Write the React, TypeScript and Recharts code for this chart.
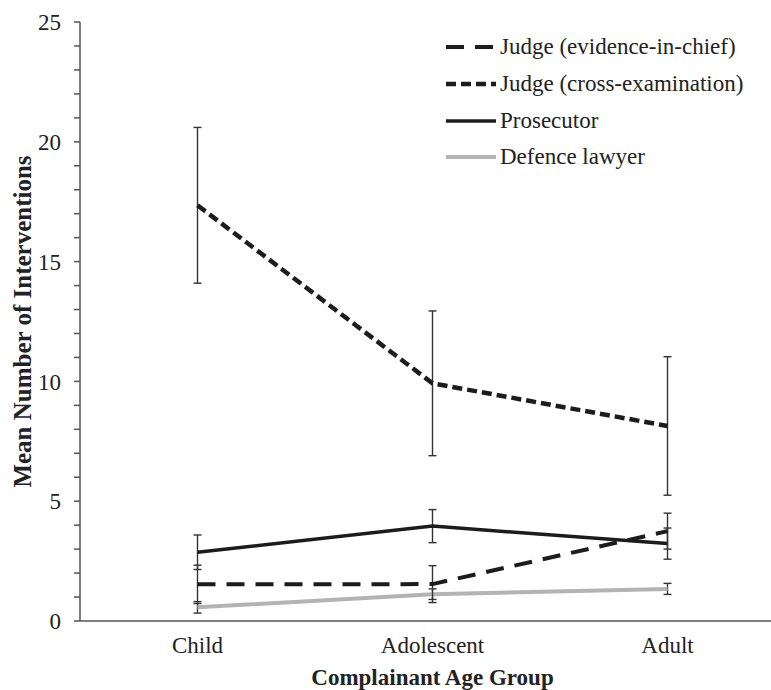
import { LineChart, Line, XAxis, YAxis, Legend, ErrorBar } from 'recharts';

// values (mean number of interventions, ± error)
const categories = ['Child', 'Adolescent', 'Adult'];
const judgeEic = [1.53, 1.54, 3.75];
const judgeEicErr = [0.8, 0.77, 0.75];
const judgeCross = [17.35, 9.92, 8.14];
const judgeCrossErr = [3.25, 3.02, 2.89];
const prosecutor = [2.87, 3.96, 3.23];
const prosecutorErr = [0.72, 0.69, 0.65];
const defence = [0.57, 1.12, 1.34];
const defenceErr = [0.24, 0.22, 0.23];

const yTicks = [0, 1, 2, 3, 4, 5, 6, 7, 8, 9, 10, 11, 12, 13, 14, 15, 16, 17, 18, 19, 20, 21, 22, 23, 24, 25];
const catTicks = [0, 1, 2];
const bandTicks = [0.5, 1.5];

const rows = categories.map((name, i) => ({
    x: i,
    name,
    eic: judgeEic[i],
    eicErr: judgeEicErr[i],
    cross: judgeCross[i],
    crossErr: judgeCrossErr[i],
    pros: prosecutor[i],
    prosErr: prosecutorErr[i],
    def: defence[i],
    defErr: defenceErr[i],
}));

const FONT = '"Liberation Serif", "Times New Roman", serif';
const INK = '#1c1c1c';

const SERIES = [
    { key: 'eic', name: 'Judge (evidence-in-chief)', stroke: INK, width: 4, dash: '18 11' },
    { key: 'cross', name: 'Judge (cross-examination)', stroke: INK, width: 4.5, dash: '10 5' },
    { key: 'pros', name: 'Prosecutor', stroke: INK, width: 3.5, dash: undefined },
    { key: 'def', name: 'Defence lawyer', stroke: '#b3b3b3', width: 4, dash: undefined },
];

const LegendContent = () => (
    <div style={{ fontFamily: FONT, fontSize: 23, color: '#222' }}>
        {SERIES.map((s) => (
            <div key={s.key} style={{ display: 'flex', alignItems: 'center', height: 36.7 }}>
                <svg width={52} height={10} style={{ marginRight: 2 }}>
                    <line x1={0} y1={5} x2={50} y2={5} stroke={s.stroke} strokeWidth={s.width} strokeDasharray={s.dash} />
                </svg>
                <span>{s.name}</span>
            </div>
        ))}
    </div>
);

export default function App() {
    return (
        <div style={{ width: 771, height: 690, overflow: 'hidden', background: '#fff' }}>
            <style>{'body{margin:0}'}</style>
            <LineChart width={785} height={690} data={rows} margin={{ top: 22, right: 0, bottom: 0, left: 0 }}>
                {/* tick marks between the categories */}
                <XAxis
                    xAxisId="band"
                    type="number"
                    dataKey="x"
                    domain={[-0.5, 2.5]}
                    ticks={bandTicks}
                    tick={false}
                    tickLine={{ stroke: '#555', strokeWidth: 1.5 }}
                    tickSize={6}
                    axisLine={false}
                    height={0}
                />
                <XAxis
                    xAxisId="cat"
                    type="number"
                    dataKey="x"
                    domain={[-0.5, 2.5]}
                    ticks={catTicks}
                    tickFormatter={(v) => categories[v]}
                    tickLine={false}
                    tickSize={6}
                    tickMargin={10}
                    axisLine={{ stroke: '#555', strokeWidth: 1.5 }}
                    tick={{ fontFamily: FONT, fontSize: 23, fill: '#222' }}
                    height={69}
                    label={{
                        value: 'Complainant Age Group',
                        position: 'insideBottom',
                        offset: 5,
                        style: { fontFamily: FONT, fontSize: 23, fontWeight: 'bold', fill: '#222' },
                    }}
                />
                <YAxis
                    type="number"
                    domain={[0, 25]}
                    ticks={yTicks}
                    interval={0}
                    tickFormatter={(v) => (v % 5 === 0 ? String(v) : '')}
                    tickLine={{ stroke: '#555', strokeWidth: 1.5 }}
                    tickSize={6}
                    tickMargin={13}
                    axisLine={{ stroke: '#555', strokeWidth: 1.5 }}
                    tick={{ fontFamily: FONT, fontSize: 23, fill: '#222' }}
                    width={80}
                    label={{
                        value: 'Mean Number of Interventions',
                        angle: -90,
                        position: 'insideLeft',
                        offset: 22,
                        style: { fontFamily: FONT, fontSize: 25, fontWeight: 'bold', fill: '#222', textAnchor: 'middle' },
                    }}
                />
                <Legend
                    layout="horizontal"
                    align="center"
                    verticalAlign="middle"
                    content={<LegendContent />}
                    wrapperStyle={{ top: 29, left: 446, width: 325, height: 150 }}
                />
                <Line xAxisId="cat" dataKey="def" name="Defence lawyer" stroke="#b3b3b3" strokeWidth={4} dot={false} isAnimationActive={false}>
                    <ErrorBar dataKey="defErr" direction="y" width={4} stroke="#333" strokeWidth={1.4} isAnimationActive={false} />
                </Line>
                <Line xAxisId="cat" dataKey="pros" name="Prosecutor" stroke={INK} strokeWidth={3.5} dot={false} isAnimationActive={false}>
                    <ErrorBar dataKey="prosErr" direction="y" width={4} stroke="#333" strokeWidth={1.4} isAnimationActive={false} />
                </Line>
                <Line xAxisId="cat" dataKey="eic" name="Judge (evidence-in-chief)" stroke={INK} strokeWidth={4} strokeDasharray="18 11" dot={false} isAnimationActive={false}>
                    <ErrorBar dataKey="eicErr" direction="y" width={4} stroke="#333" strokeWidth={1.4} isAnimationActive={false} />
                </Line>
                <Line xAxisId="cat" dataKey="cross" name="Judge (cross-examination)" stroke={INK} strokeWidth={4.5} strokeDasharray="10 5" dot={false} isAnimationActive={false}>
                    <ErrorBar dataKey="crossErr" direction="y" width={4} stroke="#333" strokeWidth={1.4} isAnimationActive={false} />
                </Line>
            </LineChart>
        </div>
    );
}
